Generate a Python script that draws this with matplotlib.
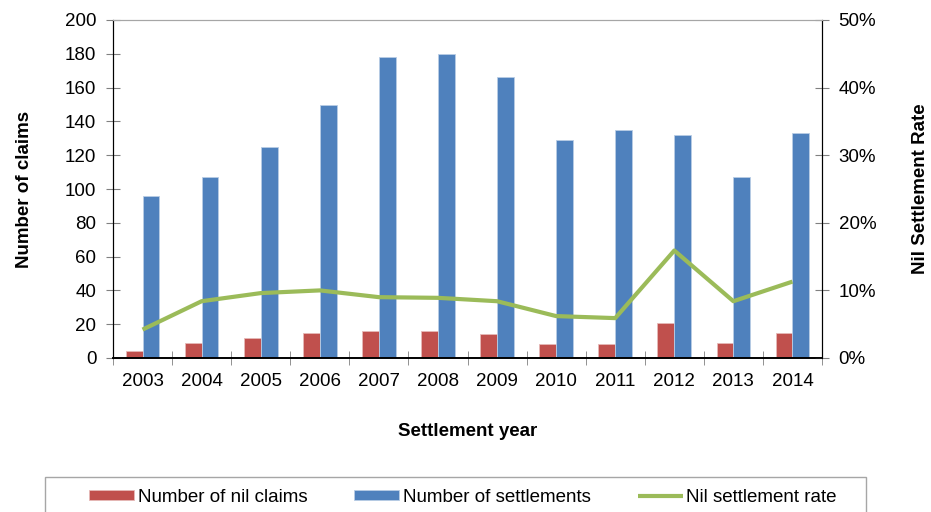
import matplotlib
matplotlib.use("Agg")
import numpy as np
from matplotlib import pyplot as plt
from matplotlib.patches import Rectangle
from matplotlib.ticker import FuncFormatter

plt.rcParams['font.family'] = ['Liberation Sans', 'DejaVu Sans']

# data
years = ['2003', '2004', '2005', '2006', '2007', '2008',
         '2009', '2010', '2011', '2012', '2013', '2014']
nil_claims = [4, 9, 12, 15, 16, 16, 14, 8, 8, 21, 9, 15]
settlements = [96, 107, 125, 150, 178, 180, 166, 129, 135, 132, 107, 133]
nil_rate = [4.2, 8.4, 9.6, 10.0, 9.0, 8.9, 8.4, 6.2, 5.9, 15.9, 8.4, 11.3]  # percent

red = '#C0504D'
blue = '#4F81BD'
green = '#9BBB59'

fig = plt.figure(figsize=(9.31, 5.12), dpi=100)
ax = fig.add_axes([113/931, 1 - 358/512, 709/931, 338/512])
ax2 = ax.twinx()

x = np.arange(len(years))
w = 0.285
ax.bar(x - w/2, nil_claims, w, color=red, edgecolor='#E6B9B8', linewidth=0.6,
       label='Number of nil claims', zorder=2)
ax.bar(x + w/2, settlements, w, color=blue, edgecolor='#B9CDE5', linewidth=0.6,
       label='Number of settlements', zorder=2)
line, = ax2.plot(x, nil_rate, color=green, lw=3, label='Nil settlement rate',
                 solid_capstyle='butt')

ax.set_xlim(-0.5, len(years) - 0.5)
ax.set_ylim(0, 200)
ax.set_yticks(range(0, 201, 20))
ax2.set_ylim(0, 50)
ax2.set_yticks(range(0, 51, 10))
ax2.yaxis.set_major_formatter(FuncFormatter(lambda v, p: '%d%%' % v))

ax.set_xticks(x)
ax.set_xticklabels(years)
ax.set_xticks(np.arange(-0.5, len(years)), minor=True)
ax.tick_params(axis='x', which='major', length=0, pad=11, labelsize=13.5)
ax.tick_params(axis='x', which='minor', direction='inout', length=10, color='#808080')
ax.tick_params(axis='y', direction='inout', length=10, color='#808080', pad=7, labelsize=13.5)
ax2.tick_params(axis='y', direction='inout', length=10, color='#808080', pad=7, labelsize=13.5)

for a in (ax, ax2):
    a.spines['top'].set_color('#A6A6A6')
    a.spines['left'].set_color('black')
    a.spines['right'].set_color('black')
    a.spines['bottom'].set_color('black')
    a.spines['bottom'].set_linewidth(1.2)

ax.set_ylabel('Number of claims', fontsize=13.5, fontweight='bold')
ax.yaxis.set_label_coords(-0.113, 0.5)
ax2.set_ylabel('Nil Settlement Rate', fontsize=13.5, fontweight='bold', rotation=90)
ax2.yaxis.set_label_coords(1.127, 0.5)
ax.set_xlabel('Settlement year', fontsize=13.5, fontweight='bold')
ax.xaxis.set_label_coords(0.5, -0.193)

# legend frame
fig.patches.append(Rectangle((45/931, -0.05), 821/931, 1 - 477/512 + 0.05,
                             transform=fig.transFigure, fill=False,
                             edgecolor='#A6A6A6', linewidth=1))
h1, l1 = ax.get_legend_handles_labels()
fig.legend(h1 + [line], l1 + ['Nil settlement rate'], loc='center',
           bbox_to_anchor=(463/931, 1 - 497/512), ncol=3, frameon=False,
           fontsize=13.5, handlelength=2.4, handleheight=0.45, handletextpad=0.2,
           columnspacing=2.5)

fig.savefig('out.png', dpi=100)
